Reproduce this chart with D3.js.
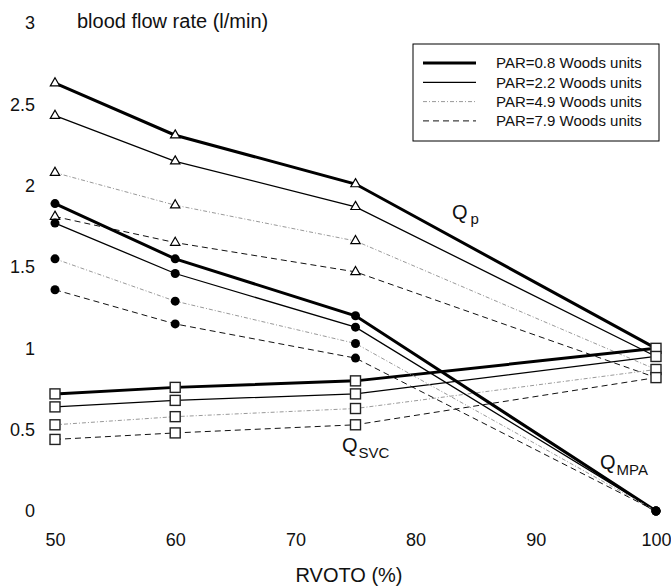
<!DOCTYPE html>
<html>
<head>
<meta charset="utf-8">
<script src="https://cdn.jsdelivr.net/npm/d3@7"></script>
<style>
  body { margin: 0; background: #fff; }
  text { font-family: "Liberation Sans", Arial, sans-serif; fill: #111; }
</style>
</head>
<body>
<script>
// RVOTO values (%)
var rvoto = [50, 60, 75, 100];
var parLabels = ["PAR=0.8 Woods units", "PAR=2.2 Woods units", "PAR=4.9 Woods units", "PAR=7.9 Woods units"];

// Qp (triangles), one row per PAR
var qp = [
  [2.63, 2.31, 2.01, 1.00],
  [2.43, 2.15, 1.87, 0.95],
  [2.08, 1.88, 1.66, 0.87],
  [1.81, 1.65, 1.47, 0.82]
];
// Q MPA (filled circles)
var qmpa = [
  [1.89, 1.55, 1.20, 0],
  [1.77, 1.46, 1.13, 0],
  [1.55, 1.29, 1.03, 0],
  [1.36, 1.15, 0.94, 0]
];
// Q SVC (squares)
var qsvc = [
  [0.72, 0.76, 0.80, 1.00],
  [0.64, 0.68, 0.72, 0.95],
  [0.53, 0.58, 0.63, 0.87],
  [0.44, 0.48, 0.53, 0.82]
];
var xTicks = [50, 60, 70, 80, 90, 100];
var yTicks = [0, 0.5, 1, 1.5, 2, 2.5, 3];

var width = 671, height = 586;

// line styles per PAR
var styles = [
  {w: 3, c: "#000", dash: null},
  {w: 1.3, c: "#000", dash: null},
  {w: 1, c: "#999", dash: "4,2,1,2"},
  {w: 1, c: "#111", dash: "6,4"}
];

var svg = d3.select("body").append("svg")
    .attr("width", width)
    .attr("height", height);

var x = d3.scaleLinear().domain([50, 100]).range([55, 656]);
var y = d3.scaleLinear().domain([0, 3]).range([511, 23]);

var yAxis = svg.append("g")
    .attr("transform", "translate(55,0)")
    .call(d3.axisLeft(y).tickValues(yTicks).tickSize(0).tickPadding(20)
      .tickFormat(function(d) { return d; }));
yAxis.select(".domain").remove();
yAxis.selectAll("text").style("font-size", "18px").attr("fill", "#111");

var xAxis = svg.append("g")
    .attr("transform", "translate(0,511)")
    .call(d3.axisBottom(x).tickValues(xTicks).tickSize(0).tickPadding(22));
xAxis.select(".domain").remove();
xAxis.selectAll("text").style("font-size", "18px").attr("fill", "#111");

svg.append("text")
    .attr("x", 77).attr("y", 28)
    .style("font-size", "20px")
    .text("blood flow rate (l/min)");

svg.append("text")
    .attr("x", 349).attr("y", 582)
    .attr("text-anchor", "middle")
    .style("font-size", "20px")
    .text("RVOTO (%)");

var line = d3.line()
    .x(function(d, i) { return x(rvoto[i]); })
    .y(function(d) { return y(d); });

function drawSeries(data) {
  svg.append("g").selectAll("path")
    .data(data)
    .enter().append("path")
      .attr("d", line)
      .attr("fill", "none")
      .attr("stroke", function(d, i) { return styles[i].c; })
      .attr("stroke-width", function(d, i) { return styles[i].w; })
      .attr("stroke-dasharray", function(d, i) { return styles[i].dash; });
}
drawSeries(qp);
drawSeries(qsvc);
drawSeries(qmpa);

// markers
var tri = d3.symbol().type(d3.symbolTriangle).size(38);
qp.forEach(function(row) {
  svg.append("g").selectAll("path")
    .data(row.slice(0, 3))
    .enter().append("path")
      .attr("d", tri)
      .attr("transform", function(d, i) { return "translate(" + x(rvoto[i]) + "," + y(d) + ")"; })
      .attr("fill", "#fff").attr("stroke", "#000").attr("stroke-width", 1.2);
});
qmpa.forEach(function(row) {
  svg.append("g").selectAll("circle")
    .data(row)
    .enter().append("circle")
      .attr("cx", function(d, i) { return x(rvoto[i]); })
      .attr("cy", function(d) { return y(d); })
      .attr("r", 4.5)
      .attr("fill", "#000");
});
qsvc.forEach(function(row) {
  svg.append("g").selectAll("rect")
    .data(row)
    .enter().append("rect")
      .attr("x", function(d, i) { return x(rvoto[i]) - 5; })
      .attr("y", function(d) { return y(d) - 5; })
      .attr("width", 10).attr("height", 10)
      .attr("fill", "#fff").attr("stroke", "#222").attr("stroke-width", 1.4);
});

// series labels
function qLabel(px, py, sub, subDx, subDy) {
  var t = svg.append("text").attr("x", px).attr("y", py).style("font-size", "20px");
  t.append("tspan").text("Q");
  t.append("tspan").attr("dx", subDx).attr("dy", subDy).style("font-size", "15px").text(sub);
}
qLabel(452, 219, "p", 3, 5);
qLabel(342, 452, "SVC", 1, 6);
qLabel(600, 469, "MPA", 1, 6);

// legend
var lg = svg.append("g");
lg.append("rect")
    .attr("x", 413).attr("y", 44).attr("width", 246).attr("height", 97)
    .attr("fill", "#fff").attr("stroke", "#000").attr("stroke-width", 1);
var rows = lg.selectAll("g.row")
    .data(parLabels)
    .enter().append("g")
      .attr("class", "row")
      .attr("transform", function(d, i) { return "translate(0," + (63 + i * 19.3) + ")"; });
rows.append("line")
    .attr("x1", 423).attr("x2", 476)
    .attr("stroke", function(d, i) { return styles[i].c; })
    .attr("stroke-width", function(d, i) { return styles[i].w; })
    .attr("stroke-dasharray", function(d, i) { return styles[i].dash; });
rows.append("text")
    .attr("x", 496).attr("dy", "0.35em")
    .style("font-size", "15px")
    .text(function(d) { return d; });
</script>
</body>
</html>
